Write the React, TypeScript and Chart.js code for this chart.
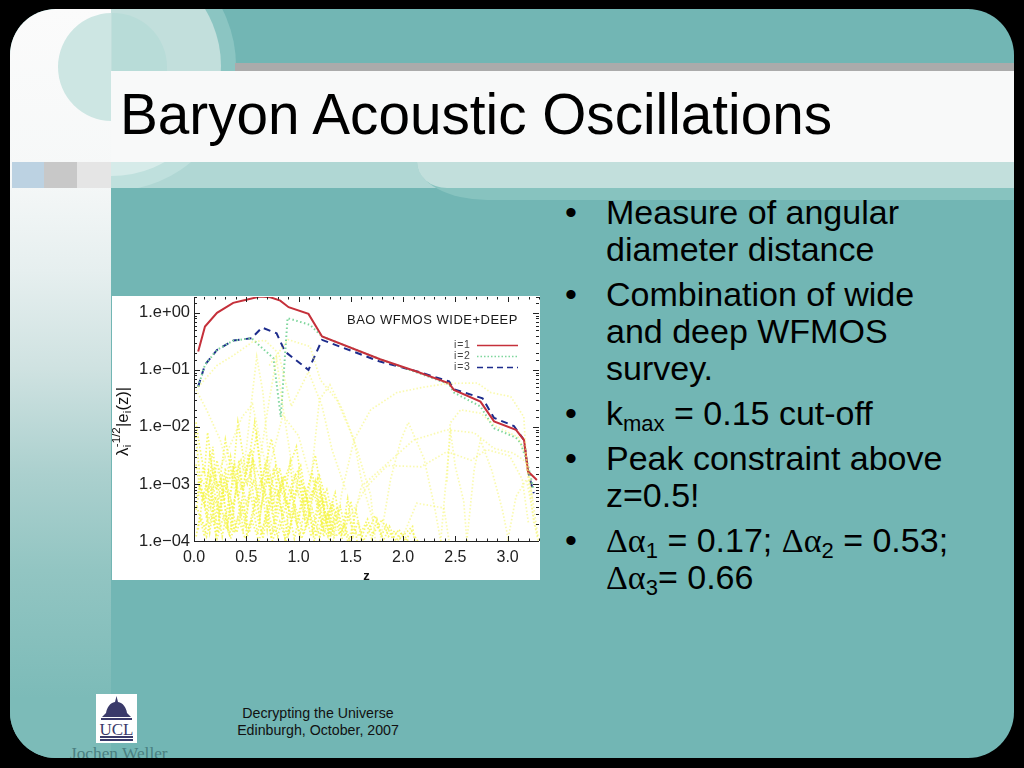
import React, { useEffect, useRef } from "react";
import { Chart, registerables } from "chart.js";

Chart.register(...registerables);

type P = [number, number];

const red: P[] = [[0.04,0.21],[0.105,0.575],[0.22,1.0],[0.375,1.5],[0.5,1.7],[0.63,1.93],[0.73,1.88],[0.825,1.64],[0.905,1.26],[1.095,0.96],[1.225,0.385],[1.78,0.154],[2.135,0.093],[2.44,0.058],[2.486,0.0446],[2.74,0.0278],[2.87,0.0125],[3.08,0.0089],[3.157,0.0059],[3.195,0.00165],[3.28,0.00117]];
const green: P[] = [[0.04,0.051],[0.105,0.123],[0.22,0.224],[0.377,0.327],[0.55,0.36],[0.76,0.16],[0.83,0.015],[0.895,0.81],[1.11,0.616],[1.225,0.385],[1.78,0.154],[2.135,0.09],[2.44,0.056],[2.486,0.04],[2.74,0.0229],[2.87,0.0095],[3.08,0.0065],[3.125,0.0052],[3.19,0.0023],[3.25,0.00079]];
const blue: P[] = [[0.04,0.051],[0.105,0.123],[0.22,0.224],[0.377,0.327],[0.55,0.36],[0.65,0.553],[0.79,0.44],[0.87,0.21],[1.095,0.1],[1.225,0.336],[1.78,0.14],[2.17,0.09],[2.44,0.0628],[2.486,0.0459],[2.76,0.0318],[2.87,0.0144],[3.06,0.0104],[3.157,0.0059],[3.195,0.00165],[3.25,0.00069]];

const upper1: P[] = [[0.04,0.05],[0.22,0.12],[0.377,0.18],[0.56,0.31],[0.68,0.33],[0.81,0.195],[0.93,0.023],[1.095,0.093],[1.225,0.023],[1.32,0.004],[1.45,0.0008]];
const upper2: P[] = [[0.72,0.12],[0.9,0.34],[1.11,0.257],[1.21,0.066],[1.37,0.029],[1.5,0.008],[1.56,0.004],[1.69,0.00063],[1.735,0.0001]];
const spike1: P[] = [[0.44,0.0009],[0.5,0.004],[0.56,0.04],[0.6,0.17],[0.66,0.04],[0.72,0.002],[0.78,0.0004]];
const spike2: P[] = [[0.62,0.002],[0.72,0.03],[0.79,0.16],[0.84,0.03],[0.93,0.0025],[1.0,0.0006]];
const spike3: P[] = [[0.02,0.045],[0.12,0.02],[0.25,0.006],[0.32,0.002],[0.4,0.0007]];
const arch1: P[] = [[0.2,0.0012],[0.37,0.006],[0.46,0.015],[0.56,0.025],[0.64,0.005],[0.72,0.0012]];
const arch2: P[] = [[0.68,0.001],[0.85,0.016],[1.0,0.007],[1.1,0.0015],[1.22,0.0006]];
const arch3: P[] = [[1.1,0.0006],[1.2,0.03],[1.3,0.055],[1.42,0.02],[1.53,0.006],[1.6,0.0012],[1.72,0.0002]];
const arch4: P[] = [[1.33,0.0001],[1.42,0.0008],[1.53,0.0059],[1.69,0.02],[1.94,0.04],[2.2,0.05],[2.44,0.058],[2.71,0.059],[2.84,0.04],[3.03,0.034],[3.155,0.015],[3.18,0.0023],[3.25,0.00021],[3.3,0.0001]];
const arch5: P[] = [[1.48,0.0001],[1.6,0.0009],[1.85,0.0023],[2.1,0.0059],[2.42,0.0089],[2.68,0.0079],[2.87,0.0042],[3.05,0.0035],[3.17,0.0025],[3.22,0.0009],[3.29,0.00012]];
const arch6: P[] = [[1.45,0.0002],[1.65,0.0009],[1.85,0.0021],[2.17,0.002],[2.42,0.0037],[2.65,0.0026],[2.8,0.004],[3.02,0.0031],[3.14,0.0012],[3.2,0.0002]];
const arch7: P[] = [[1.95,0.0001],[2.02,0.00015],[2.13,0.00046],[2.39,0.00038],[2.44,0.0001]];
const arch8: P[] = [[2.36,0.0001],[2.42,0.0018],[2.455,0.0079],[2.5,0.002],[2.58,0.0005],[2.61,0.0001]];
const arch9: P[] = [[2.61,0.0001],[2.68,0.0018],[2.74,0.0059],[2.85,0.0017],[2.95,0.00035],[3.01,0.0001]];
const arch10: P[] = [[2.42,0.0011],[2.45,0.0117],[2.55,0.02],[2.74,0.0174],[2.88,0.0105],[3.1,0.0066],[3.18,0.003],[3.24,0.0005]];
const arch11: P[] = [[1.78,0.0001],[1.88,0.0012],[1.98,0.006],[2.05,0.012],[2.2,0.0028],[2.3,0.0004],[2.36,0.0001]];
const arch12: P[] = [[3.0,0.0001],[3.08,0.0006],[3.18,0.0012],[3.23,0.0004],[3.29,0.0001]];

const mesh1: P[] = [[0.02,0.0022],[0.08,0.0005],[0.14,0.0016],[0.2,0.0002],[0.26,0.0011],[0.32,0.00018],[0.38,0.0021],[0.44,0.0003],[0.52,0.0034],[0.58,0.0004],[0.64,0.0012],[0.7,0.00016],[0.76,0.0019],[0.84,0.0003],[0.92,0.0024],[0.98,0.0002],[1.06,0.0009],[1.14,0.00014],[1.22,0.0007],[1.3,0.0001]];
const mesh2: P[] = [[0.03,0.0006],[0.09,0.002],[0.16,0.0004],[0.22,0.0026],[0.29,0.0005],[0.35,0.003],[0.42,0.0006],[0.48,0.0012],[0.55,0.004],[0.62,0.0005],[0.68,0.0023],[0.75,0.0004],[0.82,0.0019],[0.88,0.0005],[0.95,0.0012],[1.02,0.0021],[1.1,0.0003],[1.18,0.0012],[1.26,0.00022],[1.35,0.0007],[1.42,0.0001]];
const mesh3: P[] = [[0.01,0.009],[0.06,0.0012],[0.12,0.00025],[0.18,0.0045],[0.24,0.0003],[0.3,0.0019],[0.36,0.00015],[0.43,0.0026],[0.5,0.0002],[0.56,0.0028],[0.63,0.00025],[0.7,0.0024],[0.77,0.0002],[0.85,0.0011],[0.91,0.00013],[1.0,0.0015],[1.07,0.00017],[1.16,0.0011],[1.24,0.00012],[1.33,0.0005]];
const mesh4: P[] = [[0.02,0.00035],[0.07,0.0012],[0.13,0.0008],[0.19,0.0018],[0.25,0.0006],[0.31,0.0009],[0.39,0.0022],[0.46,0.0008],[0.53,0.0014],[0.6,0.0075],[0.66,0.0009],[0.73,0.0014],[0.79,0.0006],[0.86,0.0014],[0.94,0.0006],[1.03,0.0011],[1.09,0.0005],[1.2,0.0014],[1.28,0.0004],[1.38,0.0003]];
const mesh5: P[] = [[0.03,0.0004],[0.1,0.00012],[0.17,0.0008],[0.23,0.00014],[0.28,0.0007],[0.34,0.00012],[0.41,0.001],[0.47,0.00016],[0.54,0.0007],[0.61,0.00013],[0.67,0.0009],[0.74,0.00011],[0.81,0.0008],[0.87,0.00011],[0.93,0.0007],[1.01,0.00012],[1.08,0.0006],[1.15,0.0001],[1.23,0.0005],[1.31,0.00012],[1.4,0.0004],[1.47,0.0001]];
const mesh6: P[] = [[0.05,0.0009],[0.11,0.0006],[0.15,0.0031],[0.21,0.0008],[0.27,0.0014],[0.33,0.0006],[0.37,0.001],[0.45,0.0026],[0.51,0.001],[0.57,0.0025],[0.65,0.001],[0.71,0.0005],[0.78,0.002],[0.83,0.0008],[0.9,0.0004],[0.97,0.0014],[1.05,0.0005],[1.13,0.0016],[1.19,0.0004],[1.27,0.0008],[1.36,0.00015]];
const mesh7: P[] = [[0.04,0.00016],[0.09,0.0007],[0.15,0.00014],[0.2,0.0006],[0.27,0.00012],[0.33,0.0005],[0.39,0.00014],[0.45,0.0005],[0.51,0.00012],[0.59,0.0006],[0.66,0.00011],[0.72,0.0005],[0.8,0.00012],[0.89,0.0005],[0.96,0.00011],[1.04,0.0005],[1.12,0.00012],[1.21,0.0008],[1.29,0.00013],[1.37,0.0004],[1.44,0.00012],[1.5,0.0005],[1.56,0.0001]];
const mesh8: P[] = [[1.2,0.0001],[1.26,0.0006],[1.31,0.00014],[1.36,0.0003],[1.41,0.00012],[1.47,0.00055],[1.52,0.00012],[1.57,0.00022],[1.62,0.0001],[1.68,0.00016],[1.73,0.00028],[1.79,0.00012],[1.84,0.00019],[1.9,0.00011],[1.96,0.00016],[2.02,0.0001],[2.08,0.00015],[2.14,0.0001]];
const mesh9: P[] = [[1.22,0.0002],[1.28,0.00012],[1.33,0.00045],[1.39,0.00013],[1.44,0.0002],[1.49,0.0001],[1.55,0.00035],[1.6,0.00011],[1.65,0.0002],[1.7,0.00011],[1.75,0.00024],[1.81,0.0001],[1.87,0.00018],[1.93,0.0001],[1.99,0.00014],[2.05,0.0001]];
const mesh10: P[] = [[0.02,0.00012],[0.06,0.0003],[0.12,0.00012],[0.17,0.00028],[0.22,0.00011],[0.29,0.0003],[0.35,0.00011],[0.42,0.00026],[0.49,0.00011],[0.55,0.00024],[0.62,0.0001],[0.69,0.00028],[0.75,0.0001],[0.82,0.00022],[0.88,0.0001],[0.95,0.0003],[1.03,0.00011],[1.11,0.00032],[1.17,0.00012],[1.25,0.0003]];
const mesh11: P[] = [[0.02,0.012],[0.05,0.005],[0.1,0.0015],[0.13,0.008],[0.18,0.0015],[0.24,0.0009],[0.3,0.006],[0.37,0.0012],[0.42,0.012],[0.5,0.0014],[0.58,0.012],[0.65,0.0011],[0.74,0.0062],[0.83,0.0008],[0.98,0.0045],[1.06,0.0004],[1.16,0.0032],[1.25,0.0003]];
const mesh12: P[] = [[0.04,0.0011],[0.1,0.00042],[0.16,0.0013],[0.24,0.00034],[0.3,0.0012],[0.37,0.0004],[0.44,0.0016],[0.5,0.00045],[0.57,0.0011],[0.64,0.00038],[0.71,0.0013],[0.78,0.00033],[0.84,0.0012],[0.92,0.00029],[0.99,0.0008],[1.06,0.00025],[1.14,0.0008],[1.22,0.0002],[1.32,0.0004]];
const mesh13: P[] = [[0.06,0.00024],[0.11,0.00018],[0.18,0.00036],[0.21,0.00013],[0.26,0.0004],[0.31,0.00016],[0.36,0.00045],[0.41,0.00014],[0.47,0.00042],[0.53,0.00014],[0.58,0.0004],[0.65,0.00013],[0.7,0.00038],[0.76,0.00014],[0.83,0.00042],[0.9,0.00013],[0.97,0.0004],[1.05,0.00013],[1.13,0.00036],[1.2,0.00012],[1.28,0.00032],[1.34,0.00011]];
const mesh14: P[] = [[1.2,0.0005],[1.24,0.00016],[1.3,0.0003],[1.35,0.00012],[1.43,0.00016],[1.46,0.0003],[1.51,0.00018],[1.58,0.00012],[1.66,0.00024],[1.71,0.00013],[1.76,0.00018],[1.8,0.00024],[1.86,0.00012],[1.92,0.00015],[1.97,0.00011],[2.09,0.00018],[2.11,0.0001]];

const paleSeries: P[][] = [upper1, upper2, spike1, spike2, spike3, arch1, arch2, arch3, arch4, arch5, arch6, arch7, arch8, arch9, arch10, arch11, arch12];
const denseSeries: P[][] = [mesh1, mesh2, mesh3, mesh4, mesh5, mesh6, mesh7, mesh8, mesh9, mesh10, mesh11, mesh12, mesh13, mesh14];

const legendLabels = ["i=1", "i=2", "i=3"];
const chartTitle = "BAO WFMOS WIDE+DEEP";

function Sym() { return <span style={{ fontFamily: "'Liberation Serif'", fontSize: 34 }}>Δα</span>; }
function S({ children }: { children: React.ReactNode }) { return <sub style={{ fontSize: 22, verticalAlign: "-6px", lineHeight: 0 }}>{children}</sub>; }

const bullets: React.ReactNode[] = [
  <>Measure of angular diameter distance</>,
  <>Combination of wide and deep WFMOS survey.</>,
  <>k<S>max</S> = 0.15 cut-off</>,
  <>Peak constraint above z=0.5!</>,
  <><Sym /><S>1</S> = 0.17; <Sym /><S>2</S> = 0.53; <Sym /><S>3</S>= 0.66</>,
];

const RED = "#c5303a", GREEN = "#7ed69c", BLUE = "#1d2c8c", YELLOW_PALE = "rgba(246,246,110,0.55)", YELLOW_DENSE = "rgba(245,245,70,0.78)", INK = "#222";

const toPts = (a: P[]) => a.map(([x, y]) => ({ x, y }));

const decoration = {
  id: "decoration",
  afterDraw(chart: any) {
    const { ctx, chartArea: a, scales } = chart;
    const { x: sx, y: sy } = scales;
    ctx.save();
    ctx.strokeStyle = INK; ctx.lineWidth = 1;
    ctx.beginPath();
    ctx.moveTo(a.left + .5, a.top); ctx.lineTo(a.left + .5, a.bottom + .5); ctx.lineTo(a.right, a.bottom + .5);
    sy.ticks.forEach((t: any) => {
      const yy = Math.round(sy.getPixelForValue(t.value)) + .5;
      const len = Number.isInteger(Math.round(Math.log10(t.value) * 1e6) / 1e6) ? 6 : 3;
      ctx.moveTo(a.left, yy); ctx.lineTo(a.left + len, yy);
      ctx.moveTo(a.right, yy); ctx.lineTo(a.right - len, yy);
    });
    for (let i = 0; i <= 33; i++) {
      const v = i / 10;
      const xx = Math.round(sx.getPixelForValue(v)) + .5;
      const len = i % 5 === 0 ? 5 : 2.5;
      ctx.moveTo(xx, a.bottom); ctx.lineTo(xx, a.bottom - len);
      ctx.moveTo(xx, a.top); ctx.lineTo(xx, a.top + len);
    }
    ctx.stroke();

    ctx.fillStyle = "#1a1a1a"; ctx.textBaseline = "middle"; ctx.textAlign = "left";
    ctx.font = "13px 'Liberation Sans'";
    (ctx as any).letterSpacing = "0.5px";
    ctx.fillText(chartTitle, 235, 24);
    (ctx as any).letterSpacing = "0.8px";
    ctx.font = "10.5px 'Liberation Sans'"; ctx.fillStyle = "#444";
    const rows = [49, 60, 71];
    const cols = [RED, GREEN, BLUE];
    const dashes = [[], [1.5, 2], [6, 4]];
    rows.forEach((ry, i) => {
      ctx.fillText(legendLabels[i], 342, ry);
      ctx.save();
      ctx.strokeStyle = cols[i]; ctx.lineWidth = i === 1 ? 1.5 : 1.3; ctx.setLineDash(dashes[i]);
      ctx.beginPath(); ctx.moveTo(365, ry + .5); ctx.lineTo(406, ry + .5); ctx.stroke();
      ctx.restore();
    });
    (ctx as any).letterSpacing = "0px";

    // rotated y axis title, drawn piece by piece with its sub and superscripts
    ctx.translate(16, 160);
    ctx.rotate(-Math.PI / 2);
    ctx.fillStyle = "#111"; ctx.textAlign = "left"; ctx.textBaseline = "alphabetic";
    const pieces: [string, number, number, boolean][] = [
      ["λ", 17, 0, true],
      ["i", 11, 3, false],
      ["-1/2", 11.5, -8, true],
      ["|e", 16.5, 0, true],
      ["i", 11, 3, true],
      ["(z)|", 16.5, 0, true],
    ];
    let q = 0;
    pieces.forEach(([s, size, dy, adv]) => {
      ctx.font = `${size}px 'Liberation Sans'`;
      ctx.fillText(s, q, dy);
      if (adv) q += ctx.measureText(s).width + 0.3;
    });
    ctx.restore();
  },
};

export default function App() {
  const ref = useRef<HTMLCanvasElement>(null);
  useEffect(() => {
    if (!ref.current) return;
    const yellow = [
      ...paleSeries.map((s) => ({ data: toPts(s), borderColor: YELLOW_PALE, borderWidth: 1.7, borderDash: [1.5, 2], pointRadius: 0, tension: 0 })),
      ...denseSeries.map((s) => ({ data: toPts(s), borderColor: YELLOW_DENSE, borderWidth: 1.7, borderDash: [1.5, 2], pointRadius: 0, tension: 0 })),
    ];
    const chart = new Chart(ref.current, {
      type: "line",
      data: {
        datasets: [
          ...yellow,
          { label: "i=1", data: toPts(red), borderColor: RED, borderWidth: 2, pointRadius: 0, tension: 0 },
          { label: "i=2", data: toPts(green), borderColor: GREEN, borderWidth: 2, borderDash: [1.5, 2.5], pointRadius: 0, tension: 0 },
          { label: "i=3", data: toPts(blue), borderColor: BLUE, borderWidth: 2, borderDash: [7, 5], pointRadius: 0, tension: 0 },
        ] as any,
      },
      options: {
        animation: false,
        responsive: false,
        devicePixelRatio: 1,
        layout: { padding: { left: 0, right: 1, top: 1, bottom: 0 } },
        plugins: { legend: { display: false }, tooltip: { enabled: false } },
        scales: {
          x: {
            type: "linear", min: 0, max: 3.3,
            border: { display: false },
            grid: { display: false, drawTicks: false },
            afterFit(s: any) { s.height = 39; s.paddingLeft = 0; s.paddingRight = 0; },
            afterBuildTicks(s: any) { s.ticks = [0, 0.5, 1, 1.5, 2, 2.5, 3].map((value) => ({ value })); },
            ticks: {
              color: "#222", padding: 7, maxRotation: 0, autoSkip: false,
              font: { family: "'Liberation Sans'", size: 16 },
              callback: (v: any) => Number(v).toFixed(1),
            },
            title: { display: true, text: "z", color: "#111", padding: { top: 0, bottom: -4 }, font: { family: "'Liberation Sans'", size: 13, weight: "bold" } },
          },
          y: {
            type: "logarithmic", min: 1e-4, max: 1.9,
            border: { display: false },
            grid: { display: false, drawTicks: false },
            afterFit(s: any) { s.width = 82; s.paddingTop = 0; s.paddingBottom = 0; },
            ticks: {
              color: "#222", padding: 4, autoSkip: false,
              font: { family: "'Liberation Sans'", size: 16.5 },
              callback: (v: any) => {
                const l = Math.log10(Number(v));
                if (Math.abs(l - Math.round(l)) > 1e-6) return "";
                const n = Math.round(l);
                return n === 0 ? "1.e+00" : `1.e\u2212${String(-n).padStart(2, "0")}`;
              },
            },
          },
        },
      } as any,
      plugins: [decoration],
    });
    return () => chart.destroy();
  }, []);

  const abs = (l: number, t: number, w: number, h: number, extra: React.CSSProperties = {}): React.CSSProperties => ({ position: "absolute", left: l, top: t, width: w, height: h, ...extra });

  return (
    <div style={abs(0, 0, 1024, 768, { background: "#000", overflow: "hidden", fontFamily: "'Liberation Sans'" })}>
      <div style={abs(10, 9, 1004, 749, { background: "#72b6b4", borderRadius: 46, overflow: "hidden" })}>
        {/* left column, slide coordinates */}
        <div style={abs(0, 0, 101, 749, { background: "linear-gradient(180deg,#fbfbfb 0%,#f6f8f8 22%,#e6efef 35%,#cfe2e1 48%,#abd0ce 62%,#92c5c2 75%,#7cbbb8 92%,#7cbbb8 100%)" })} />

        {/* pale circles clipped to the right of the column */}
        <div style={abs(101, 0, 400, 179, { overflow: "hidden" })}>
          <div style={abs(-125, -68, 250, 250, { background: "#8bc5c2", borderRadius: "50%" })} />
          <div style={abs(-110, -53, 220, 220, { background: "#c2dfdc", borderRadius: "50%" })} />
        </div>
        <div style={abs(101, 153, 903, 26, { background: "#b0d7d4", overflow: "hidden" })}>
          <div style={abs(-125, -221, 250, 250, { background: "#bfe0dd", borderRadius: "50%" })} />
          <div style={abs(-110, -206, 220, 220, { background: "#d6ebe9", borderRadius: "50%" })} />
        </div>

        {/* small circle across the column edge: the part right of the column */}
        <div style={abs(102, 4, 55, 58, { background: "#b8dcd8", borderTopRightRadius: 54 })} />

        {/* grey stripe */}
        <div style={abs(225, 54, 779, 8, { background: "#ababab" })} />

        {/* lower right rounded panel */}
        <div style={abs(407, 100, 700, 91, { background: "#87c3bf", borderBottomLeftRadius: "70px 38px" })} />
        <div style={abs(407, 100, 700, 79, { background: "#c2dfdc", borderBottomLeftRadius: "30px 26px" })} />

        {/* title band */}
        <div style={abs(101, 62, 903, 91, { background: "#f8f9f9" })} />

        {/* small circle: the part over the column */}
        <div style={abs(48, 4, 53, 109, { overflow: "hidden" })}>
          <div style={abs(0, 0, 108, 108, { background: "#cde6e3", borderRadius: "50%" })} />
        </div>

        {/* squares */}
        <div style={abs(2, 153, 32, 26, { background: "#bcd2e2" })} />
        <div style={abs(34, 153, 33, 26, { background: "#c8c8c8" })} />
        <div style={abs(67, 153, 34, 26, { background: "#e5e5e5" })} />
      </div>

      <div style={abs(120, 80, 800, 70, { fontSize: 56.7, lineHeight: "70px", color: "#000", whiteSpace: "nowrap" })}>Baryon Acoustic Oscillations</div>

      <canvas ref={ref} width={428} height={284} style={abs(112, 296, 428, 284, { background: "#fff", filter: "blur(0.45px)" })} />

      <ul style={abs(606, 194, 360, 420, { margin: 0, padding: 0, listStyle: "none", fontSize: 34, lineHeight: "37px", color: "#000" })}>
        {bullets.map((b, i) => (
          <li key={i} style={{ position: "relative", marginBottom: 8 }}>
            <span style={{ position: "absolute", left: -41 }}>•</span>
            {b}
          </li>
        ))}
      </ul>

      {/* UCL logo */}
      <div style={abs(96, 694, 41, 49, { background: "#fff" })}>
        <svg width={41} height={49} viewBox="0 0 41 49">
          <path d="M20.5 2 L22 8 C27 9 30 13 31 19 L35 23 L6 23 L10 19 C11 13 14 9 19 8 Z" fill="#3a3a6a" />
          <rect x={5} y={24} width={31} height={2} fill="#3a3a6a" />
          <text x={20.5} y={41} textAnchor="middle" fontFamily="'Liberation Serif'" fontSize={17} fill="#3a3a6a">UCL</text>
          <rect x={4} y={42} width={33} height={2} fill="#3a3a6a" />
          <rect x={4} y={45} width={33} height={2} fill="#3a3a6a" />
        </svg>
      </div>
      <div style={abs(60, 745, 120, 13, { overflow: "hidden" })}>
        <div style={{ position: "absolute", left: 10, top: 0, fontFamily: "'Liberation Serif'", fontSize: 17.3, lineHeight: "17px", color: "#4a7f80", whiteSpace: "nowrap" }}>Jochen Weller</div>
      </div>

      <div style={abs(218, 705, 200, 34, { textAlign: "center", fontSize: 14.2, lineHeight: "17px", color: "#111" })}>
        Decrypting the Universe<br />Edinburgh, October, 2007
      </div>
    </div>
  );
}
